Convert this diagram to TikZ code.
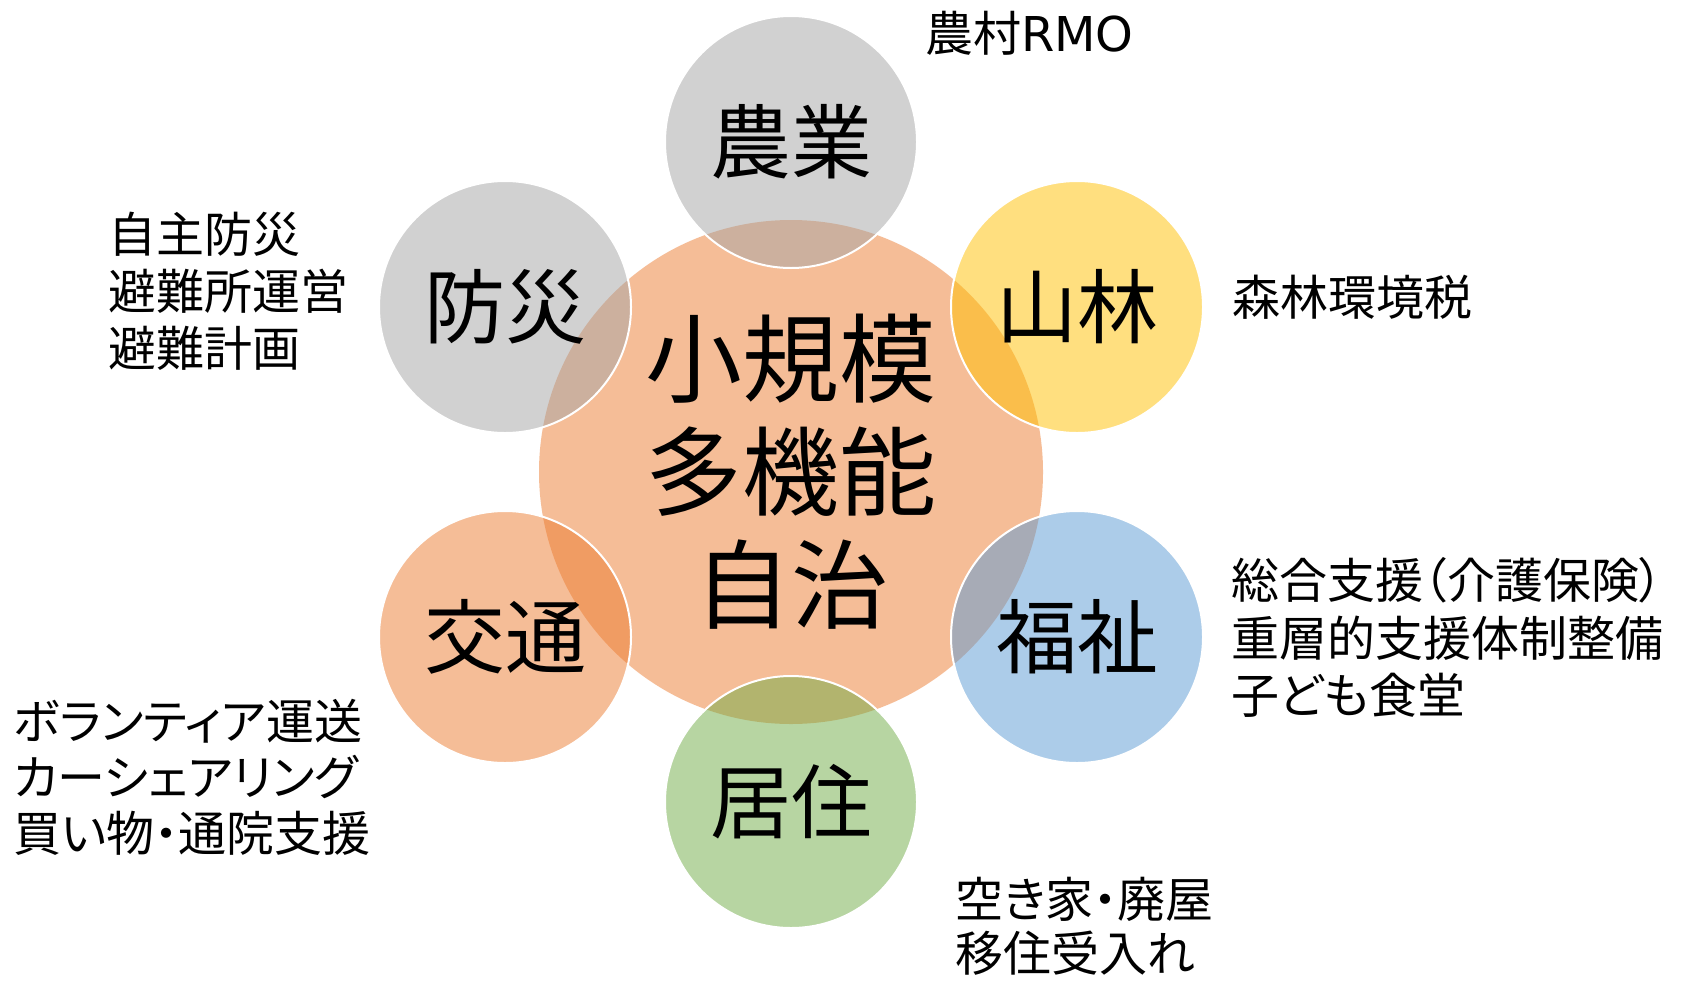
\documentclass[tikz,border=0pt]{standalone}
\usepackage{fontspec}
\setmainfont{Noto Sans CJK JP}[RawFeature=+palt]
\newfontfamily\latinfont{DejaVu Sans}
\definecolor{orgC}{HTML}{ED7D31}
\definecolor{grayC}{HTML}{A5A5A5}
\definecolor{yelC}{HTML}{FFC000}
\definecolor{bluC}{HTML}{5B9BD5}
\definecolor{grnC}{HTML}{70AD47}
\begin{document}
\begin{tikzpicture}[x=1pt,y=-1pt,
  hub/.style={circle, inner sep=0pt, minimum size=504pt, fill=orgC, fill opacity=0.5, text opacity=1, draw=none, align=center, font=\fontsize{97}{113}\selectfont},
  sat/.style={circle, inner sep=0pt, minimum size=252pt, fill opacity=0.5, text opacity=1, draw=white, draw opacity=1, line width=2pt, font=\fontsize{81}{95}\selectfont},
  lab/.style={anchor=west, inner sep=0pt, font=\fontsize{48}{56}\selectfont}]
\useasboundingbox (0,0) rectangle (1683,980);
\fill[white] (0,0) rectangle (1683,980);
% hub
\node[hub] (hub) at (791,472) {小規模\\多機能\\自治};
% satellites
\node[sat, fill=grayC] (nogyo) at (791,142) {農業};
\node[sat, fill=yelC] (sanrin) at (1077,307) {山林};
\node[sat, fill=bluC] (fukushi) at (1077,637) {福祉};
\node[sat, fill=grnC] (kyoju) at (791,802) {居住};
\node[sat, fill=orgC] (kotsu) at (505,637) {交通};
\node[sat, fill=grayC] (bosai) at (505,307) {防災};
% labels
\node[lab] (l1) at (925,33) {農村{\latinfont RMO}};
\node[lab] (l2) at (1232,297) {森林環境税};
\node[lab] (l3a) at (1231,580) {総合支援（介護保険）};
\node[lab] (l3b) at (1231,638) {重層的支援体制整備};
\node[lab] (l3c) at (1231,695) {子ども食堂};
\node[lab] (l4a) at (955,899) {空き家・廃屋};
\node[lab] (l4b) at (955,953) {移住受入れ};
\node[lab] (l5a) at (13,721) {ボランティア運送};
\node[lab] (l5b) at (13,777) {カーシェアリング};
\node[lab] (l5c) at (13,833) {買い物・通院支援};
\node[lab] (l6a) at (108,234) {自主防災};
\node[lab] (l6b) at (108,291) {避難所運営};
\node[lab] (l6c) at (108,348) {避難計画};
\end{tikzpicture}
\end{document}
